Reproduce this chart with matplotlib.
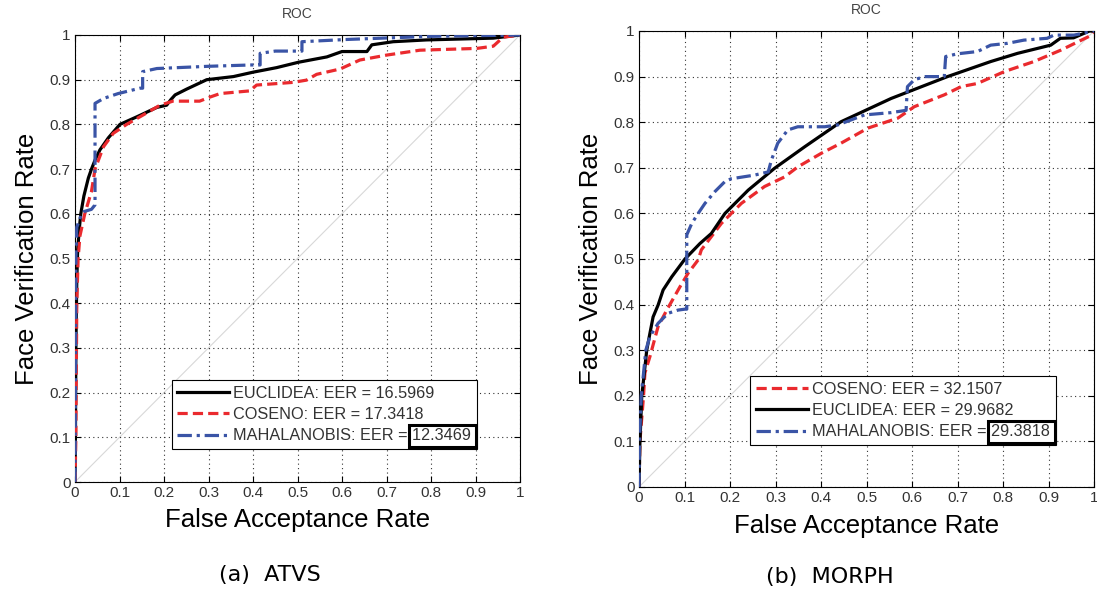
import matplotlib
matplotlib.use("Agg")
import matplotlib.pyplot as plt
from matplotlib.patches import Rectangle

plt.rcParams['font.family'] = ['Liberation Sans', 'DejaVu Sans']

# ---- ATVS ROC curves (false acceptance rate, face verification rate) ----
atvs_euc_far = [0, 0.001, 0.002, 0.004, 0.006, 0.01, 0.013, 0.02, 0.03, 0.037, 0.045, 0.056,
                0.075, 0.101, 0.139, 0.184, 0.206, 0.215, 0.225, 0.251, 0.296, 0.356, 0.401,
                0.453, 0.502, 0.566, 0.60, 0.656, 0.667, 0.715, 0.79, 0.94, 1.0]
atvs_euc_tpr = [0, 0.10, 0.30, 0.45, 0.52, 0.57, 0.60, 0.64, 0.68, 0.70, 0.72, 0.743,
                0.77, 0.80, 0.817, 0.838, 0.843, 0.855, 0.866, 0.879, 0.90, 0.907, 0.917,
                0.927, 0.939, 0.951, 0.963, 0.963, 0.978, 0.985, 0.989, 0.993, 1.0]

atvs_cos_far = [0, 0.002, 0.004, 0.007, 0.011, 0.022, 0.037, 0.045, 0.064, 0.086, 0.116,
                0.153, 0.191, 0.22, 0.28, 0.303, 0.326, 0.393, 0.408, 0.49, 0.52, 0.543,
                0.596, 0.64, 0.70, 0.775, 0.903, 0.94, 0.962, 1.0]
atvs_cos_tpr = [0, 0.10, 0.40, 0.50, 0.55, 0.60, 0.65, 0.70, 0.75, 0.78, 0.80,
                0.821, 0.843, 0.852, 0.852, 0.861, 0.869, 0.875, 0.888, 0.894, 0.899, 0.912,
                0.924, 0.944, 0.955, 0.966, 0.970, 0.975, 0.995, 1.0]

atvs_mah_far = [0, 0.001, 0.002, 0.004, 0.015, 0.02, 0.037, 0.045, 0.045, 0.064, 0.097,
                0.146, 0.152, 0.152, 0.184, 0.30, 0.397, 0.416, 0.416, 0.45, 0.51, 0.51,
                0.61, 0.80, 1.0]
atvs_mah_tpr = [0, 0.20, 0.50, 0.57, 0.60, 0.605, 0.61, 0.62, 0.847, 0.858, 0.869,
                0.881, 0.881, 0.918, 0.925, 0.93, 0.933, 0.933, 0.959, 0.964, 0.964, 0.985,
                0.99, 0.997, 1.0]

# ---- MORPH ROC curves ----
morph_euc_far = [0, 0.002, 0.006, 0.017, 0.024, 0.031, 0.042, 0.053, 0.072, 0.101, 0.134,
                 0.159, 0.189, 0.24, 0.298, 0.364, 0.444, 0.554, 0.678, 0.773, 0.832, 0.905,
                 0.926, 0.955, 0.99, 1.0]
morph_euc_tpr = [0, 0.096, 0.198, 0.30, 0.337, 0.373, 0.399, 0.432, 0.461, 0.50, 0.534,
                 0.556, 0.60, 0.651, 0.699, 0.746, 0.801, 0.852, 0.90, 0.933, 0.951, 0.969,
                 0.984, 0.985, 1.0, 1.0]

morph_cos_far = [0, 0.002, 0.01, 0.013, 0.024, 0.042, 0.061, 0.09, 0.108, 0.13, 0.137,
                 0.181, 0.225, 0.276, 0.32, 0.349, 0.401, 0.444, 0.503, 0.569, 0.605, 0.671,
                 0.708, 0.744, 0.803, 0.868, 0.927, 0.993, 1.0]
morph_cos_tpr = [0, 0.10, 0.20, 0.25, 0.286, 0.352, 0.388, 0.439, 0.469, 0.498, 0.52,
                 0.578, 0.622, 0.659, 0.68, 0.702, 0.732, 0.754, 0.787, 0.809, 0.834, 0.86,
                 0.878, 0.885, 0.911, 0.933, 0.958, 0.99, 1.0]

morph_mah_far = [0, 0.001, 0.005, 0.015, 0.024, 0.042, 0.064, 0.086, 0.101, 0.105, 0.105,
                 0.116, 0.13, 0.145, 0.167, 0.189, 0.203, 0.254, 0.284, 0.291, 0.305, 0.327,
                 0.349, 0.408, 0.437, 0.474, 0.496, 0.554, 0.587, 0.59, 0.605, 0.627, 0.671,
                 0.674, 0.70, 0.744, 0.773, 0.81, 0.846, 0.897, 0.912, 0.956, 1.0]
morph_mah_tpr = [0, 0.10, 0.20, 0.30, 0.33, 0.359, 0.381, 0.388, 0.39, 0.39, 0.553,
                 0.578, 0.60, 0.622, 0.648, 0.67, 0.676, 0.684, 0.691, 0.717, 0.754, 0.783,
                 0.79, 0.79, 0.794, 0.808, 0.816, 0.821, 0.826, 0.878, 0.893, 0.90, 0.90,
                 0.944, 0.95, 0.955, 0.969, 0.973, 0.98, 0.984, 0.991, 0.991, 1.0]

eer_atvs = {"EUCLIDEA": "16.5969", "COSENO": "17.3418", "MAHALANOBIS": "12.3469"}
eer_morph = {"COSENO": "32.1507", "EUCLIDEA": "29.9682", "MAHALANOBIS": "29.3818"}

ticks = [0, 0.1, 0.2, 0.3, 0.4, 0.5, 0.6, 0.7, 0.8, 0.9, 1]
tick_labels = ["0", "0.1", "0.2", "0.3", "0.4", "0.5", "0.6", "0.7", "0.8", "0.9", "1"]

RED = "#ea2a2e"
BLUE = "#3a54a6"
BLACK = "#000000"

styles = {
    "EUCLIDEA": dict(color=BLACK, ls="-", lw=2.3),
    "COSENO": dict(color=RED, ls=(0, (3.2, 1.6)), lw=2.3),
    "MAHALANOBIS": dict(color=BLUE, ls=(0, (4.5, 1.5, 1.0, 1.5)), lw=2.3),
}

fig = plt.figure(figsize=(10.97, 5.95), dpi=100)
ax_a = fig.add_axes([75 / 1097, 1 - 482 / 595, 445 / 1097, 447 / 595])
ax_b = fig.add_axes([639 / 1097, 1 - 487 / 595, 455 / 1097, 456 / 595])


def setup(ax):
    ax.plot([0, 1], [0, 1], color="#d8d8d8", lw=0.8, zorder=1)
    ax.set_xlim(0, 1)
    ax.set_ylim(0, 1)
    ax.set_xticks(ticks)
    ax.set_yticks(ticks)
    ax.set_xticklabels(tick_labels)
    ax.set_yticklabels(tick_labels)
    ax.tick_params(direction="in", top=True, right=True, length=4, width=0.8,
                   labelsize=11, labelcolor="#333333", pad=3)
    ax.grid(True, color="#333333", ls=(0, (1, 3)), lw=0.8)
    for s in ax.spines.values():
        s.set_linewidth(0.8)
    ax.set_title("ROC", fontsize=10, color="#444444", pad=12)
    ax.set_xlabel("False Acceptance Rate", fontsize=18.5, labelpad=6)
    ax.set_ylabel("Face Verification Rate", fontsize=18.5, labelpad=8)


def draw(ax, order, curves, eers, anchor):
    setup(ax)
    for name in order:
        far, tpr = curves[name]
        ax.plot(far, tpr, label=f"{name}: EER = {eers[name]}", zorder=3,
                **styles[name])
    leg = ax.legend(loc="lower right", bbox_to_anchor=anchor, borderaxespad=0,
                    fontsize=11.7, handlelength=3.2, handletextpad=0.25,
                    labelspacing=0.38, borderpad=0.35, fancybox=False,
                    framealpha=1, edgecolor="black")
    leg.get_frame().set_linewidth(0.8)
    for t in leg.get_texts():
        t.set_color("#333333")
    return leg


leg_a = draw(ax_a, ["EUCLIDEA", "COSENO", "MAHALANOBIS"],
             {"EUCLIDEA": (atvs_euc_far, atvs_euc_tpr),
              "COSENO": (atvs_cos_far, atvs_cos_tpr),
              "MAHALANOBIS": (atvs_mah_far, atvs_mah_tpr)},
             eer_atvs, (0.903, 0.074))
leg_b = draw(ax_b, ["COSENO", "EUCLIDEA", "MAHALANOBIS"],
             {"COSENO": (morph_cos_far, morph_cos_tpr),
              "EUCLIDEA": (morph_euc_far, morph_euc_tpr),
              "MAHALANOBIS": (morph_mah_far, morph_mah_tpr)},
             eer_morph, (0.916, 0.092))

# Highlight box around the best (Mahalanobis) EER value
fig.canvas.draw()
renderer = fig.canvas.get_renderer()
for leg, value in ((leg_a, eer_atvs["MAHALANOBIS"]), (leg_b, eer_morph["MAHALANOBIS"])):
    txt = leg.get_texts()[-1]
    bb = txt.get_window_extent(renderer)
    probe = fig.text(0, 0, value, fontsize=txt.get_fontsize(),
                     fontfamily=txt.get_fontfamily())
    w = probe.get_window_extent(renderer).width
    probe.remove()
    x0 = bb.x1 - w - 3
    rect = Rectangle((x0, bb.y0 - 4), w + 8, bb.height + 7, transform=None,
                     fill=False, edgecolor="black", lw=2.2, zorder=10)
    fig.patches.append(rect)

fig.text(270 / 1097, 1 - 575 / 595, "(a)  ATVS", fontsize=16, ha="center", va="center",
         family="DejaVu Sans")
fig.text(830 / 1097, 1 - 577 / 595, "(b)  MORPH", fontsize=16, ha="center", va="center",
         family="DejaVu Sans")

fig.savefig("out.png", dpi=100)
